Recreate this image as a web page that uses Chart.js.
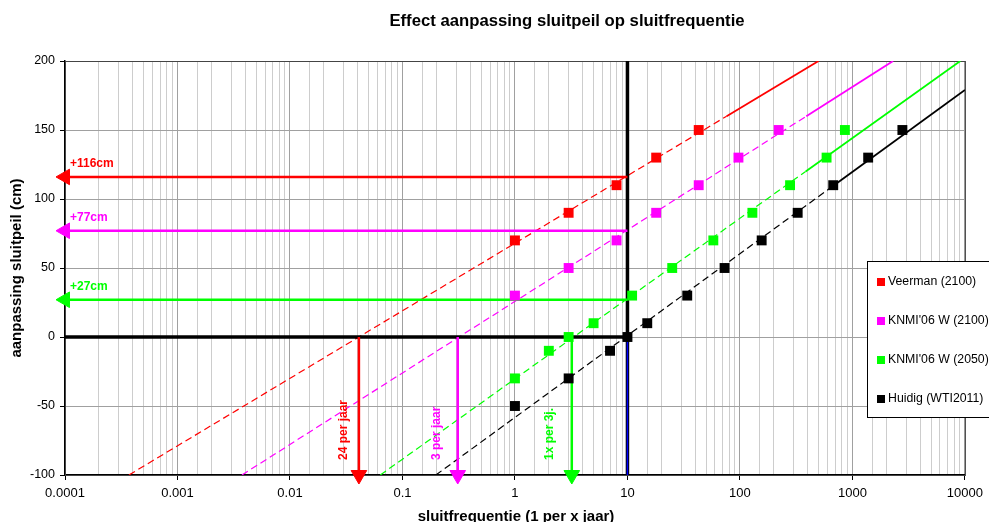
<!DOCTYPE html>
<html>
<head>
<meta charset="utf-8">
<script src="https://cdn.jsdelivr.net/npm/chart.js@4.4.0/dist/chart.umd.min.js"></script>
<style>
  html, body { margin: 0; padding: 0; background: #fff; overflow: hidden; }
</style>
</head>
<body>
<canvas id="chart" width="989" height="522"></canvas>
<script>
// series (x = sluitfrequentie 1 per x jaar, y = aanpassing sluitpeil cm)
const seriesNames = ['Veerman (2100)', "KNMI'06 W (2100)", "KNMI'06 W (2050)", 'Huidig (WTI2011)'];
const seriesColors = ['#ff0000', '#ff00ff', '#00ff00', '#000000'];
const veermanX = [1, 3, 8, 18, 43];
const veermanY = [70, 90, 110, 130, 150];
const knmi2100X = [1, 3, 8, 18, 43, 97, 221];
const knmi2100Y = [30, 50, 70, 90, 110, 130, 150];
const knmi2050X = [1, 2, 3, 5, 11, 25, 58, 129, 279, 589, 857];
const knmi2050Y = [-30, -10, 0, 10, 30, 50, 70, 90, 110, 130, 150];
const huidigX = [1, 3, 7, 10, 15, 34, 73, 156, 326, 675, 1380, 2780];
const huidigY = [-50, -30, -10, 0, 10, 30, 50, 70, 90, 110, 130, 150];

// trend lines: start / end point, and level from where the line is drawn solid
const trendX = [[0.00037, 500], [0.00374, 2300], [0.0635, 9100], [0.198, 10000]];
const trendY = [[-100, 200], [-100, 200], [-100, 200], [-100, 179]];
const trendSolidFrom = [160, 160, 120, 110];

// current closing (1 per 10 jaar) and the shifts
const currentX = 10;
const shiftLabels = ['+116cm', '+77cm', '+27cm'];
const shiftY = [116, 77, 27];
const freqLabels = ['24 per jaar', '3 per jaar', '1x per 3j.'];
const freqX = [0.041, 0.31, 3.2];

const xTicks = [0.0001, 0.001, 0.01, 0.1, 1, 10, 100, 1000, 10000];
const yMin = -100, yMax = 200, yStep = 50;

const FONT = 'Liberation Sans, Arial, sans-serif';
Chart.defaults.font.family = FONT;
Chart.defaults.color = '#000';

const pts = (xs, ys) => xs.map((x, i) => ({ x, y: ys[i] }));
const isDecade = v => Math.abs(Math.log10(v) - Math.round(Math.log10(v))) < 1e-9;

// point on a trend line for a given y (straight in log-x)
function trendAt(i, y) {
  const lx0 = Math.log10(trendX[i][0]), lx1 = Math.log10(trendX[i][1]);
  const t = (y - trendY[i][0]) / (trendY[i][1] - trendY[i][0]);
  return { x: Math.pow(10, lx0 + t * (lx1 - lx0)), y };
}

const markerSets = [
  pts(veermanX, veermanY),
  pts(knmi2100X, knmi2100Y),
  pts(knmi2050X, knmi2050Y),
  pts(huidigX, huidigY)
];

const datasets = [];

// markers on top
markerSets.forEach((d, i) => {
  datasets.push({
    data: d,
    order: 0,
    showLine: false,
    pointStyle: 'rect',
    pointRadius: 7,
    pointBackgroundColor: seriesColors[i],
    pointBorderColor: seriesColors[i],
    pointBorderWidth: 0
  });
});

// trend lines
seriesColors.forEach((c, i) => {
  const start = { x: trendX[i][0], y: trendY[i][0] };
  const end = { x: trendX[i][1], y: trendY[i][1] };
  const brk = trendAt(i, trendSolidFrom[i]);
  datasets.push({
    data: [start, brk],
    order: 3,
    showLine: true,
    borderColor: c,
    borderWidth: 1.2,
    borderDash: [7, 4],
    pointRadius: 0
  });
  datasets.push({
    data: [brk, end],
    order: 3,
    showLine: true,
    borderColor: c,
    borderWidth: 1.8,
    pointRadius: 0
  });
});

// thick lines for the current situation
datasets.push({
  data: [{ x: xTicks[0], y: 0 }, { x: currentX, y: 0 }],
  order: 2, showLine: true, borderColor: '#000', borderWidth: 3.5, pointRadius: 0
});
datasets.push({
  data: [{ x: currentX, y: yMin }, { x: currentX, y: yMax }],
  order: 2, showLine: true, borderColor: '#000', borderWidth: 3.5, pointRadius: 0
});
datasets.push({
  data: [{ x: currentX, y: 0 }, { x: currentX, y: yMin }],
  order: 1, showLine: true, borderColor: '#0000ff', borderWidth: 1.5, pointRadius: 0
});

// arrows: horizontal (shift of level) and vertical (new frequency)
shiftY.forEach((y, i) => {
  datasets.push({
    data: [{ x: currentX, y }, { x: xTicks[0], y }],
    order: 1, showLine: true, clip: false,
    borderColor: seriesColors[i], borderWidth: 2.5,
    pointStyle: 'triangle', rotation: 270,
    pointRadius: [0, 9],
    pointBackgroundColor: seriesColors[i], pointBorderColor: seriesColors[i], pointBorderWidth: 1
  });
});
freqX.forEach((x, i) => {
  datasets.push({
    data: [{ x, y: 0 }, { x, y: yMin }],
    order: 1, showLine: true, clip: false,
    borderColor: seriesColors[i], borderWidth: 2.5,
    pointStyle: 'triangle', rotation: 180,
    pointRadius: [0, 9],
    pointBackgroundColor: seriesColors[i], pointBorderColor: seriesColors[i], pointBorderWidth: 1
  });
});

const decor = {
  id: 'decor',
  beforeDatasetsDraw(chart) {
    const { ctx, chartArea: a } = chart;
    ctx.save();
    ctx.strokeStyle = '#444';
    ctx.lineWidth = 1;
    ctx.strokeRect(a.left + 0.5, a.top + 0.5, a.right - a.left, a.bottom - a.top);
    ctx.restore();
  },
  afterDatasetsDraw(chart) {
    const { ctx } = chart;
    const xs = chart.scales.x, ys = chart.scales.y;
    ctx.save();

    // title
    ctx.fillStyle = '#000';
    ctx.font = 'bold 16.7px ' + FONT;
    ctx.textAlign = 'center';
    ctx.textBaseline = 'middle';
    ctx.fillText('Effect aanpassing sluitpeil op sluitfrequentie', 567, 21);

    // axis titles
    ctx.font = 'bold 15px ' + FONT;
    ctx.fillText('sluitfrequentie (1 per x jaar)', 516, 517);
    ctx.save();
    ctx.translate(17, 268);
    ctx.rotate(-Math.PI / 2);
    ctx.fillText('aanpassing sluitpeil (cm)', 0, 0);
    ctx.restore();

    // level labels
    ctx.font = 'bold 12px ' + FONT;
    ctx.textAlign = 'left';
    ctx.textBaseline = 'alphabetic';
    shiftY.forEach((y, i) => {
      ctx.fillStyle = seriesColors[i];
      ctx.fillText(shiftLabels[i], 70, ys.getPixelForValue(y) - 10);
    });

    // frequency labels (vertical)
    const dx = [-15, -21, -22];
    freqX.forEach((x, i) => {
      ctx.save();
      ctx.fillStyle = seriesColors[i];
      ctx.translate(xs.getPixelForValue(x) + dx[i], 460);
      ctx.rotate(-Math.PI / 2);
      ctx.textAlign = 'left';
      ctx.textBaseline = 'middle';
      ctx.fillText(freqLabels[i], 0, 0);
      ctx.restore();
    });

    // legend
    const lx = 867.5, ly = 261.5;
    ctx.fillStyle = '#fff';
    ctx.fillRect(lx, ly, 130, 156);
    ctx.strokeStyle = '#000';
    ctx.lineWidth = 1;
    ctx.strokeRect(lx, ly, 130, 156);
    ctx.font = '12.3px ' + FONT;
    ctx.textBaseline = 'middle';
    ctx.textAlign = 'left';
    seriesNames.forEach((name, i) => {
      const cy = 282 + i * 39;
      ctx.fillStyle = seriesColors[i];
      ctx.fillRect(877, cy - 4, 8, 8);
      ctx.fillStyle = '#000';
      ctx.fillText(name, 888, cy);
    });
    ctx.restore();
  }
};

new Chart(document.getElementById('chart'), {
  type: 'scatter',
  data: { datasets },
  options: {
    responsive: false,
    animation: false,
    devicePixelRatio: 1,
    layout: { padding: { top: 61, right: 21, left: 0, bottom: 0 } },
    plugins: { legend: { display: false }, tooltip: { enabled: false } },
    scales: {
      x: {
        type: 'logarithmic',
        min: xTicks[0],
        max: xTicks[xTicks.length - 1],
        afterFit: s => { s.height = 47; },
        border: { color: '#000', width: 1.5 },
        grid: {
          color: c => (c.tick && isDecade(c.tick.value)) ? '#a0a0a0' : '#cdcdcd',
          tickColor: c => (c.tick && isDecade(c.tick.value)) ? '#000' : 'rgba(0,0,0,0)',
          tickLength: 5
        },
        ticks: {
          autoSkip: false,
          maxRotation: 0,
          padding: 6,
          font: { size: 13 },
          callback: v => xTicks.some(t => Math.abs(t - v) / t < 1e-9) ? String(v) : ''
        }
      },
      y: {
        min: yMin,
        max: yMax,
        afterFit: s => { s.width = 65; },
        border: { color: '#000', width: 1.5 },
        grid: { color: '#a0a0a0', tickColor: '#000', tickLength: 5 },
        ticks: { stepSize: yStep, padding: 5, font: { size: 12.5 } }
      }
    }
  },
  plugins: [decor]
});
</script>
</body>
</html>
